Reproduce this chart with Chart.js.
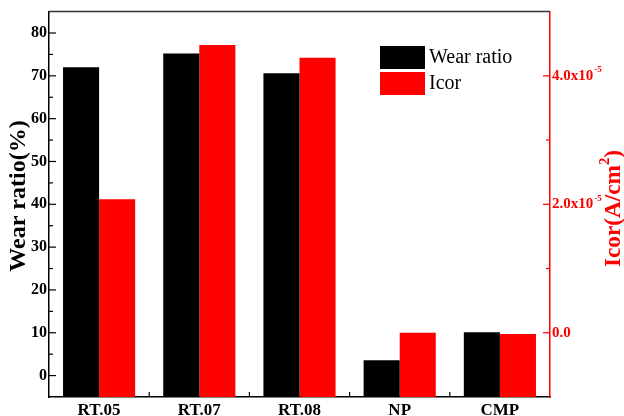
<!DOCTYPE html>
<html>
<head>
<meta charset="utf-8">
<script src="https://cdn.jsdelivr.net/npm/chart.js@4/dist/chart.umd.min.js"></script>
<style>
  body { margin: 0; background: #fff; }
  canvas { display: block; }
</style>
</head>
<body>
<canvas id="chart" width="624" height="416"></canvas>
<script>
// values
const categories = ['RT.05', 'RT.07', 'RT.08', 'NP', 'CMP'];
const wearRatio = [72.0, 75.2, 70.6, 3.6, 10.1];           // %
const icor = [2.08e-5, 4.48e-5, 4.28e-5, 0.0, -0.02e-5];   // A/cm2
const wearTicks = [0, 10, 20, 30, 40, 50, 60, 70, 80];
const icorTicks = [0, 2e-5, 4e-5];

const SERIF = "'Liberation Serif', 'Times New Roman', serif";
const RED = '#ff0000';

function isIcorLabel(v) {
    const n = Math.round(v * 1e5);
    return icorTicks.some(t => Math.round(t * 1e5) === n);
}

// ticks, titles, legend, superscripts
const decorPlugin = {
    id: 'decor',
    afterDraw(chart) {
        const { ctx, chartArea: a, scales } = chart;
        const y = scales.y, y1 = scales.y1, x = scales.x;
        ctx.save();

        // top frame line
        ctx.strokeStyle = '#333';
        ctx.lineWidth = 1.5;
        ctx.beginPath();
        ctx.moveTo(a.left, a.top);
        ctx.lineTo(a.right, a.top);
        ctx.stroke();

        // left ticks (inward)
        ctx.strokeStyle = '#000';
        ctx.lineWidth = 1.2;
        for (let v = 0; v <= 80; v += 5) {
            const p = y.getPixelForValue(v);
            const len = v % 10 === 0 ? 7 : 4;
            ctx.beginPath();
            ctx.moveTo(a.left, p);
            ctx.lineTo(a.left + len, p);
            ctx.stroke();
        }

        // bottom ticks between categories
        for (let i = 0; i < categories.length - 1; i++) {
            const p = (x.getPixelForValue(i) + x.getPixelForValue(i + 1)) / 2;
            ctx.beginPath();
            ctx.moveTo(p, a.bottom);
            ctx.lineTo(p, a.bottom - 5);
            ctx.stroke();
        }

        // right ticks (inward)
        ctx.strokeStyle = RED;
        for (let n = 0; n <= 4; n++) {
            const p = y1.getPixelForValue(n * 1e-5);
            const len = n % 2 === 0 ? 7 : 4;
            ctx.beginPath();
            ctx.moveTo(a.right, p);
            ctx.lineTo(a.right - len, p);
            ctx.stroke();
        }

        // superscripts on right tick labels
        ctx.fillStyle = RED;
        y1.ticks.forEach(t => {
            if (!isIcorLabel(t.value) || Math.round(t.value * 1e5) === 0) return;
            const p = y1.getPixelForValue(t.value);
            ctx.font = 'bold 15px ' + SERIF;
            const w = ctx.measureText(t.label).width;
            ctx.font = 'bold 9px ' + SERIF;
            ctx.textAlign = 'left';
            ctx.textBaseline = 'middle';
            ctx.fillText('-5', y1.left + 2 + w + 1, p - 6);
        });

        // left title
        ctx.fillStyle = '#000';
        ctx.save();
        ctx.translate(19, 196);
        ctx.rotate(-Math.PI / 2);
        ctx.font = 'bold 24px ' + SERIF;
        ctx.textAlign = 'center';
        ctx.textBaseline = 'middle';
        ctx.fillText('Wear ratio(%)', 0, 0);
        ctx.restore();

        // right title
        ctx.fillStyle = RED;
        ctx.save();
        ctx.translate(614, 267);
        ctx.rotate(-Math.PI / 2);
        ctx.textAlign = 'left';
        ctx.textBaseline = 'middle';
        const big = 'bold 24px ' + SERIF, small = 'bold 15px ' + SERIF;
        ctx.font = big;
        const w1 = ctx.measureText('Icor(A/cm').width;
        const w3 = ctx.measureText(')').width;
        ctx.font = small;
        const w2 = ctx.measureText('2').width;
        ctx.scale(117 / (w1 + w2 + w3), 1);
        ctx.font = big;
        ctx.fillText('Icor(A/cm', 0, 0);
        ctx.font = small;
        ctx.fillText('2', w1, -9);
        ctx.font = big;
        ctx.fillText(')', w1 + w2, 0);
        ctx.restore();

        // legend
        ctx.font = '20px ' + SERIF;
        ctx.textAlign = 'left';
        ctx.textBaseline = 'middle';
        chart.data.datasets.forEach((ds, i) => {
            const top = 46 + i * 26;
            ctx.fillStyle = ds.backgroundColor;
            ctx.fillRect(380, top, 45, 23);
            ctx.fillStyle = '#000';
            ctx.fillText(ds.label, 429, top + 12);
        });

        ctx.restore();
    }
};

new Chart(document.getElementById('chart'), {
    type: 'bar',
    data: {
        labels: categories,
        datasets: [
            { label: 'Wear ratio', data: wearRatio, backgroundColor: '#000000', yAxisID: 'y', base: -5 },
            { label: 'Icor', data: icor, backgroundColor: RED, yAxisID: 'y1', base: -1e-5 }
        ]
    },
    options: {
        responsive: false,
        animation: false,
        devicePixelRatio: 1,
        layout: { padding: { top: 7, left: 0, right: 0, bottom: 0 } },
        datasets: { bar: { categoryPercentage: 0.72, barPercentage: 1.0 } },
        plugins: {
            legend: { display: false },
            tooltip: { enabled: false }
        },
        scales: {
            x: {
                grid: { display: false, drawTicks: false },
                border: { color: '#000', width: 1.5 },
                ticks: { color: '#000', padding: 3, font: { family: SERIF, size: 17, weight: 'bold' } },
                afterFit: s => { s.height = 19; }
            },
            y: {
                position: 'left',
                min: -5,
                max: 85,
                grid: { display: false, drawTicks: false },
                border: { color: '#000', width: 1.5 },
                ticks: {
                    stepSize: 5,
                    autoSkip: false,
                    padding: 2,
                    color: '#000',
                    font: { family: SERIF, size: 16, weight: 'bold' },
                    callback: v => wearTicks.includes(v) ? String(v) : ''
                },
                afterFit: s => { s.width = 49; }
            },
            y1: {
                position: 'right',
                min: -1e-5,
                max: 5e-5,
                grid: { display: false, drawTicks: false },
                border: { color: RED, width: 1.5 },
                ticks: {
                    stepSize: 1e-5,
                    autoSkip: false,
                    padding: 2,
                    color: RED,
                    font: { family: SERIF, size: 15, weight: 'bold' },
                    callback: v => {
                        if (!isIcorLabel(v)) return '';
                        const n = Math.round(v * 1e5);
                        return n === 0 ? '0.0' : n.toFixed(1) + 'x10';
                    }
                },
                afterFit: s => { s.width = 74; }
            }
        }
    },
    plugins: [decorPlugin]
});
</script>
</body>
</html>
